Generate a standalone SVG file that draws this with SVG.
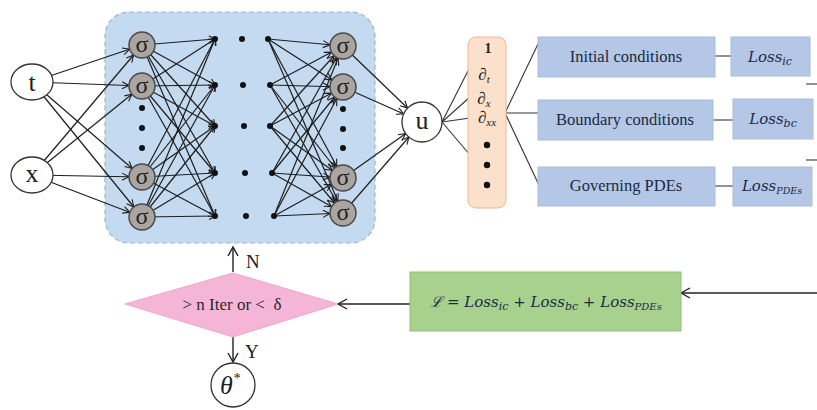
<svg xmlns="http://www.w3.org/2000/svg" width="817" height="410" viewBox="0 0 817 410">
<defs>
<style>
.ser{font-family:"Liberation Serif","Times New Roman",serif;}
.net line{stroke:#1e1e1e;stroke-width:1.2;}
.sig circle{fill:#aaa5a0;stroke:#4a4a4a;stroke-width:1.5;}
.sig text{font-family:"Liberation Serif","Times New Roman",serif;font-size:24px;fill:#222;text-anchor:middle;}
.sig circle.dot,.dot{fill:#111;stroke:none;}
.io{fill:#fff;stroke:#333;stroke-width:1.3;}
.iot{font-family:"Liberation Serif","Times New Roman",serif;font-size:26px;fill:#222;text-anchor:middle;}
.bbox{fill:#b4c7e7;stroke:#a9bcdc;stroke-width:1;}
.btxt{font-family:"Liberation Serif","Times New Roman",serif;font-size:16.5px;fill:#1c2a3c;text-anchor:middle;}
.loss{font-family:"DejaVu Serif","Liberation Serif",serif;font-style:italic;font-size:15px;fill:#1c2a48;text-anchor:middle;}
.gl{stroke:#555;stroke-width:1.3;fill:none;}
.dl{stroke:#333;stroke-width:1.1;fill:none;}
</style>
<marker id="a0" markerUnits="userSpaceOnUse" markerWidth="12" markerHeight="8" refX="6" refY="3.5" orient="auto" overflow="visible"><path d="M0,0 L7,3.5 L0,7" fill="none" stroke="#1e1e1e" stroke-width="1.1"/></marker>
<marker id="a13" markerUnits="userSpaceOnUse" markerWidth="12" markerHeight="8" refX="20" refY="3.5" orient="auto" overflow="visible"><path d="M0,0 L7,3.5 L0,7" fill="none" stroke="#1e1e1e" stroke-width="1.1"/></marker>
<marker id="a20" markerUnits="userSpaceOnUse" markerWidth="12" markerHeight="8" refX="27" refY="3.5" orient="auto" overflow="visible"><path d="M0,0 L7,3.5 L0,7" fill="none" stroke="#1e1e1e" stroke-width="1.1"/></marker>
<marker id="ae" markerUnits="userSpaceOnUse" markerWidth="12" markerHeight="12" refX="9" refY="5" orient="auto" overflow="visible"><path d="M0,0 L9,5 L0,10" fill="none" stroke="#222" stroke-width="1.4"/></marker>
</defs>
<rect width="817" height="410" fill="#fff"/>

<g id="network-box">
<rect x="105" y="12" width="270" height="231" rx="24" fill="#c4daf0" stroke="#9fb5cb" stroke-width="1.2" stroke-dasharray="5,3"/>
</g>

<g id="connectors">
<g class="net">
<line x1="32" y1="82" x2="142" y2="45" marker-end="url(#a13)"/>
<line x1="32" y1="82" x2="142" y2="86" marker-end="url(#a13)"/>
<line x1="32" y1="82" x2="142" y2="177" marker-end="url(#a13)"/>
<line x1="32" y1="82" x2="142" y2="217" marker-end="url(#a13)"/>
<line x1="32" y1="175" x2="142" y2="45" marker-end="url(#a13)"/>
<line x1="32" y1="175" x2="142" y2="86" marker-end="url(#a13)"/>
<line x1="32" y1="175" x2="142" y2="177" marker-end="url(#a13)"/>
<line x1="32" y1="175" x2="142" y2="217" marker-end="url(#a13)"/>

<line x1="142" y1="45" x2="215" y2="39" marker-end="url(#a0)"/>
<line x1="142" y1="45" x2="215" y2="85" marker-end="url(#a0)"/>
<line x1="142" y1="45" x2="215" y2="126" marker-end="url(#a0)"/>
<line x1="142" y1="45" x2="215" y2="173" marker-end="url(#a0)"/>
<line x1="142" y1="45" x2="215" y2="216" marker-end="url(#a0)"/>
<line x1="142" y1="86" x2="215" y2="39" marker-end="url(#a0)"/>
<line x1="142" y1="86" x2="215" y2="85" marker-end="url(#a0)"/>
<line x1="142" y1="86" x2="215" y2="126" marker-end="url(#a0)"/>
<line x1="142" y1="86" x2="215" y2="173" marker-end="url(#a0)"/>
<line x1="142" y1="86" x2="215" y2="216" marker-end="url(#a0)"/>
<line x1="142" y1="177" x2="215" y2="39" marker-end="url(#a0)"/>
<line x1="142" y1="177" x2="215" y2="85" marker-end="url(#a0)"/>
<line x1="142" y1="177" x2="215" y2="126" marker-end="url(#a0)"/>
<line x1="142" y1="177" x2="215" y2="173" marker-end="url(#a0)"/>
<line x1="142" y1="177" x2="215" y2="216" marker-end="url(#a0)"/>
<line x1="142" y1="217" x2="215" y2="39" marker-end="url(#a0)"/>
<line x1="142" y1="217" x2="215" y2="85" marker-end="url(#a0)"/>
<line x1="142" y1="217" x2="215" y2="126" marker-end="url(#a0)"/>
<line x1="142" y1="217" x2="215" y2="173" marker-end="url(#a0)"/>
<line x1="142" y1="217" x2="215" y2="216" marker-end="url(#a0)"/>

<line x1="268" y1="39" x2="343" y2="46" marker-end="url(#a13)"/>
<line x1="268" y1="39" x2="343" y2="87" marker-end="url(#a13)"/>
<line x1="268" y1="39" x2="343" y2="178" marker-end="url(#a13)"/>
<line x1="268" y1="39" x2="343" y2="213" marker-end="url(#a13)"/>
<line x1="270" y1="85" x2="343" y2="46" marker-end="url(#a13)"/>
<line x1="270" y1="85" x2="343" y2="87" marker-end="url(#a13)"/>
<line x1="270" y1="85" x2="343" y2="178" marker-end="url(#a13)"/>
<line x1="270" y1="85" x2="343" y2="213" marker-end="url(#a13)"/>
<line x1="270" y1="126" x2="343" y2="46" marker-end="url(#a13)"/>
<line x1="270" y1="126" x2="343" y2="87" marker-end="url(#a13)"/>
<line x1="270" y1="126" x2="343" y2="178" marker-end="url(#a13)"/>
<line x1="270" y1="126" x2="343" y2="213" marker-end="url(#a13)"/>
<line x1="272" y1="173" x2="343" y2="46" marker-end="url(#a13)"/>
<line x1="272" y1="173" x2="343" y2="87" marker-end="url(#a13)"/>
<line x1="272" y1="173" x2="343" y2="178" marker-end="url(#a13)"/>
<line x1="272" y1="173" x2="343" y2="213" marker-end="url(#a13)"/>
<line x1="274" y1="216" x2="343" y2="46" marker-end="url(#a13)"/>
<line x1="274" y1="216" x2="343" y2="87" marker-end="url(#a13)"/>
<line x1="274" y1="216" x2="343" y2="178" marker-end="url(#a13)"/>
<line x1="274" y1="216" x2="343" y2="213" marker-end="url(#a13)"/>

<line x1="343" y1="46" x2="422" y2="122" marker-end="url(#a20)"/>
<line x1="343" y1="87" x2="422" y2="122" marker-end="url(#a20)"/>
<line x1="343" y1="178" x2="422" y2="122" marker-end="url(#a20)"/>
<line x1="343" y1="213" x2="422" y2="122" marker-end="url(#a20)"/>
</g>
<g class="dl">
<line x1="442" y1="122" x2="470" y2="67"/>
<line x1="442" y1="122" x2="470" y2="97"/>
<line x1="442" y1="122" x2="470" y2="118"/>
<line x1="442" y1="122" x2="470" y2="155"/>
<line x1="505" y1="113" x2="538" y2="44"/>
<line x1="505" y1="113" x2="538" y2="113"/>
<line x1="505" y1="113" x2="538" y2="183"/>
</g>
<g class="gl">
<line x1="715" y1="56" x2="731" y2="56"/>
<line x1="713" y1="120" x2="733" y2="120"/>
<line x1="715" y1="186" x2="733" y2="186"/>
<line x1="806" y1="84" x2="817" y2="84"/>
<line x1="806" y1="160" x2="817" y2="160"/>
</g>
<g stroke="#222" stroke-width="1.4" fill="none">
<line x1="817" y1="293" x2="681" y2="293" marker-end="url(#ae)"/>
<line x1="410" y1="304" x2="338" y2="304" marker-end="url(#ae)"/>
<line x1="233" y1="272" x2="233" y2="247" marker-end="url(#ae)"/>
<line x1="233" y1="337" x2="233" y2="362" marker-end="url(#ae)"/>
</g>
</g>

<g id="input-t"><ellipse class="io" cx="32" cy="82" rx="21" ry="18"/><text class="iot" x="32" y="91">t</text></g>
<g id="input-x"><ellipse class="io" cx="32" cy="175" rx="21" ry="18"/><text class="iot" x="32" y="182">x</text></g>

<g id="hidden-layer-1" class="sig">
<circle cx="142" cy="45" r="13"/><text x="142" y="52">σ</text>
<circle cx="142" cy="86" r="13"/><text x="142" y="93">σ</text>
<circle cx="142" cy="177" r="13"/><text x="142" y="184">σ</text>
<circle cx="142" cy="217" r="13"/><text x="142" y="224">σ</text>
<circle class="dot" cx="142" cy="108" r="3"/>
<circle class="dot" cx="142" cy="128" r="3"/>
<circle class="dot" cx="142" cy="148" r="3"/>
</g>

<g id="hidden-layers-mid">
<circle class="dot" cx="215" cy="39" r="3"/><circle class="dot" cx="215" cy="85" r="3"/><circle class="dot" cx="215" cy="126" r="3"/><circle class="dot" cx="215" cy="173" r="3"/><circle class="dot" cx="215" cy="216" r="3"/>
<circle class="dot" cx="242" cy="39" r="3"/><circle class="dot" cx="243" cy="85" r="3"/><circle class="dot" cx="244" cy="126" r="3"/><circle class="dot" cx="245" cy="173" r="3"/><circle class="dot" cx="246" cy="216" r="3"/>
<circle class="dot" cx="268" cy="39" r="3"/><circle class="dot" cx="270" cy="85" r="3"/><circle class="dot" cx="270" cy="126" r="3"/><circle class="dot" cx="272" cy="173" r="3"/><circle class="dot" cx="274" cy="216" r="3"/>
</g>

<g id="hidden-layer-n" class="sig">
<circle cx="343" cy="46" r="13"/><text x="343" y="53">σ</text>
<circle cx="343" cy="87" r="13"/><text x="343" y="94">σ</text>
<circle cx="343" cy="178" r="13"/><text x="343" y="185">σ</text>
<circle cx="343" cy="213" r="13"/><text x="343" y="220">σ</text>
<circle class="dot" cx="343" cy="109" r="3"/>
<circle class="dot" cx="343" cy="129" r="3"/>
<circle class="dot" cx="343" cy="148" r="3"/>
</g>

<g id="output-u"><circle class="io" cx="422" cy="122" r="20"/><text class="iot" x="422" y="129">u</text></g>

<g id="derivatives">
<rect x="468" y="37" width="38" height="171" rx="8" fill="#fbe0cc" stroke="#f0b894" stroke-width="1"/>
<text class="ser" x="488" y="53" font-size="14" font-weight="bold" text-anchor="middle" fill="#222">1</text>
<text class="ser" x="484" y="80" font-size="17" font-style="italic" text-anchor="middle" fill="#222">∂<tspan font-size="11" dy="3">t</tspan></text>
<text class="ser" x="484" y="104" font-size="17" font-style="italic" text-anchor="middle" fill="#222">∂<tspan font-size="11" dy="3">x</tspan></text>
<text class="ser" x="487" y="123" font-size="17" font-style="italic" text-anchor="middle" fill="#222">∂<tspan font-size="11" dy="3">xx</tspan></text>
<circle class="dot" cx="487" cy="145" r="3.2"/>
<circle class="dot" cx="487" cy="165" r="3.2"/>
<circle class="dot" cx="487" cy="185" r="3.2"/>
</g>

<g id="initial-conditions"><rect class="bbox" x="538" y="37" width="177" height="40"/><text class="btxt" x="626" y="62">Initial conditions</text></g>
<g id="boundary-conditions"><rect class="bbox" x="538" y="100" width="175" height="40"/><text class="btxt" x="625" y="125">Boundary conditions</text></g>
<g id="governing-pdes"><rect class="bbox" x="538" y="167" width="177" height="39"/><text class="btxt" x="626" y="191">Governing PDEs</text></g>

<g id="loss-ic"><rect class="bbox" x="731" y="37" width="79" height="39"/><text class="loss" x="770" y="62">Loss<tspan font-size="11" dy="3">ic</tspan></text></g>
<g id="loss-bc"><rect class="bbox" x="733" y="99" width="80" height="40"/><text class="loss" x="773" y="124">Loss<tspan font-size="11" dy="3">bc</tspan></text></g>
<g id="loss-pdes"><rect class="bbox" x="733" y="167" width="79" height="39"/><text class="loss" x="772" y="191">Loss<tspan font-size="9.5" dy="3">PDEs</tspan></text></g>

<g id="total-loss">
<rect x="410" y="272" width="271" height="59" fill="#a9d18e" stroke="#93bd78" stroke-width="1"/>
<text class="loss" x="546" y="307" font-size="16">ℒ = Loss<tspan font-size="11" dy="3">ic</tspan><tspan dy="-3"> + Loss</tspan><tspan font-size="11" dy="3">bc</tspan><tspan dy="-3"> + Loss</tspan><tspan font-size="10" dy="3">PDEs</tspan></text>
</g>

<g id="stop-check">
<polygon points="125,304 233,273 338,304 233,337" fill="#f5b5d6" stroke="#f0a8cc" stroke-width="1"/>
<text class="ser" x="232" y="310" font-size="17" text-anchor="middle" fill="#2a2a2a">&gt; n Iter or &lt;&#160;&#160;δ</text>
</g>

<g id="labels">
<text class="ser" x="246" y="268" font-size="19" fill="#222">N</text>
<text class="ser" x="245" y="358" font-size="19" fill="#222">Y</text>
</g>

<g id="theta-star"><circle class="io" cx="233" cy="385" r="22"/><text class="ser" x="230" y="394" font-size="26" font-style="italic" text-anchor="middle" fill="#222">θ<tspan font-size="14" dy="-11">*</tspan></text></g>
</svg>
